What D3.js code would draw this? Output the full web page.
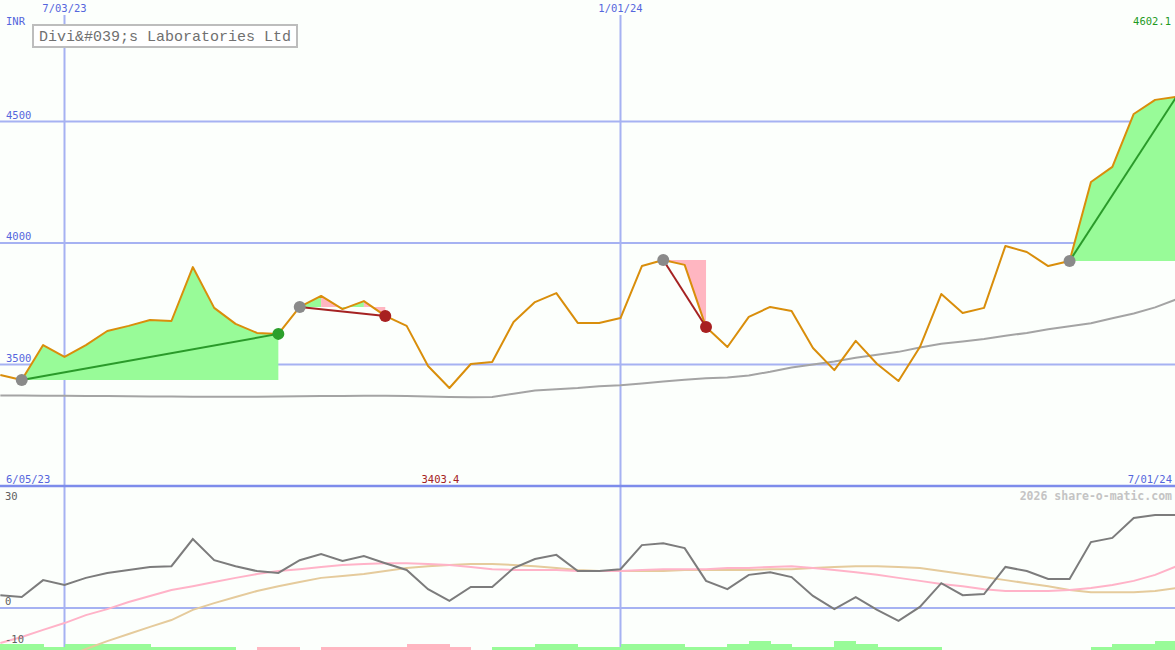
<!DOCTYPE html>
<html><head><meta charset="utf-8">
<script src="https://cdn.jsdelivr.net/npm/d3@7/dist/d3.min.js"></script>
<style>
html,body{margin:0;padding:0;background:#fcfffc;overflow:hidden;}
svg{display:block;}
text{font-family:"DejaVu Sans Mono","Liberation Mono",monospace;}
</style></head><body>
<svg id="chart" width="1175" height="650"></svg>
<script>
// ---------- data ----------
const dates = ["2023-06-12","2023-06-19","2023-06-26","2023-07-03","2023-07-10","2023-07-17","2023-07-24","2023-07-31",
"2023-08-07","2023-08-14","2023-08-21","2023-08-28","2023-09-04","2023-09-11","2023-09-18","2023-09-25",
"2023-10-02","2023-10-09","2023-10-16","2023-10-23","2023-10-30","2023-11-06","2023-11-13","2023-11-20","2023-11-27",
"2023-12-04","2023-12-11","2023-12-18","2023-12-25","2024-01-01","2024-01-08","2024-01-15","2024-01-22","2024-01-29",
"2024-02-05","2024-02-12","2024-02-19","2024-02-26","2024-03-04","2024-03-11","2024-03-18","2024-03-25",
"2024-04-01","2024-04-08","2024-04-15","2024-04-22","2024-04-29","2024-05-06","2024-05-13","2024-05-20","2024-05-27",
"2024-06-03","2024-06-10","2024-06-17","2024-06-24","2024-07-01"];
const closePrice = [3457,3436,3580,3531,3580,3638,3659,3683,3679,3901,3733,3667,3630,3626,3737,3782,
3728,3761,3700,3659,3494,3403.4,3502,3510,3675,3757,3794,3671,3671,3691,3905,3930,3910,3654,
3572,3696,3737,3720,3568,3477,3597,3502,3432,3572,3790,3712,3733,3988,3963,3905,3926,
4251,4313,4531,4589,4602.1];
const longMA = [3372,3372,3371,3371,3370,3370,3369,3368,3368,3367,3367,3367,3367,3368,3369,3370,
3370,3371,3371,3370,3368,3366,3365,3366,3380,3393,3398,3403,3410,3415,3422,3430,3437,3443,
3447,3455,3470,3488,3500,3512,3528,3540,3552,3570,3585,3595,3605,3618,3630,3645,3657,
3670,3690,3710,3735,3768];
const oscillator = [3.4,2.9,7.4,6.1,8.0,9.3,10.1,10.9,11.1,18.3,12.7,11.1,9.8,9.3,12.7,14.3,
12.5,13.8,11.9,10.1,5.0,1.9,5.6,5.6,10.6,13.0,14.1,9.8,9.8,10.3,16.7,17.2,15.9,7.2,
5.0,8.8,9.5,8.2,3.2,-0.3,2.9,-0.5,-3.4,0.3,6.6,3.4,3.7,10.9,9.8,7.7,7.7,
17.5,18.6,23.9,24.7,24.7];
const oscFast = [-9.3,-7.7,-5.8,-4.0,-1.9,-0.3,1.6,3.2,4.8,5.8,6.9,8.0,9.0,9.8,10.3,10.9,
11.4,11.7,11.9,11.9,11.7,11.4,10.9,10.3,10.1,10.1,10.1,9.8,9.8,9.8,10.1,10.3,10.3,10.3,
10.6,10.6,10.9,11.1,10.6,10.1,9.5,8.8,8.0,7.2,6.4,5.8,5.0,4.5,4.5,4.5,4.8,
5.3,6.1,7.2,8.8,11.1];
const oscSlow = [-19.4,-17.2,-15.1,-13.0,-10.9,-8.8,-6.9,-5.0,-3.2,-0.5,1.3,2.9,4.5,5.8,6.9,8.0,
8.5,9.0,9.8,10.6,11.1,11.4,11.7,11.7,11.4,11.1,10.6,10.1,9.8,9.8,9.8,9.8,10.1,10.1,
10.1,10.1,10.3,10.3,10.6,10.9,11.1,11.1,10.9,10.6,9.8,9.0,8.2,7.4,6.6,5.8,4.8,
4.2,4.2,4.2,4.5,5.3];
const signalBars = [2,2,1,2,2,2,2,1,1,1,1,0,-1,-1,0,-1,-1,-1,-1,-2,-2,-1,0,1,1,2,2,1,1,2,2,2,1,1,
2,3,2,1,1,3,2,1,1,1,0,0,0,0,0,0,0,1,2,2,3,3];
const tradeEntries = ["2023-06-19","2023-09-18","2024-01-15","2024-05-27"];
const tradeExits   = ["2023-09-11","2023-10-16","2024-01-29","2024-07-01"];
const tradeOpen    = [false,false,false,true];
const priceTicks = [4500,4000,3500];
const oscTicks = [30,0,-10];
const gridDates = ["2023-07-03","2024-01-01"];
const gridDateLabels = ["7/03/23","1/01/24"];
const rangeLabels = ["6/05/23","7/01/24"];
const titleText = "Divi&#039;s Laboratories Ltd";
const currencyText = "INR";
const creditText = "2026 share-o-matic.com";

// ---------- setup ----------
const W = 1175, H = 650;
const svg = d3.select("#chart");
const parse = d3.utcParse("%Y-%m-%d");
const dts = dates.map(parse);
const gd = gridDates.map(parse);
const x = d3.scaleUtc().domain(gd).range([64.5, 620.5]);
const y = d3.scaleLinear().domain([3000, 5000]).range([486, 0]);
const yo = d3.scaleLinear().domain([0, 30]).range([608, 495]);
const barH = d3.scaleLinear().domain([0, 3]).range([0, 9]);
const idx = d => dates.indexOf(d);
const step = x(dts[1]) - x(dts[0]);

const C = {
  grid:"#a6b2f2", sep:"#7d8ceb", blue:"#5566dd", price:"#d98e0b", ma:"#a4a4a4",
  osc:"#7c7c7c", fast:"#ffb3c8", slow:"#e5cb9c", green:"#98fb98", pink:"#ffb6c1",
  win:"#2a9a2a", loss:"#a52222", dotGray:"#8a8a8a", dotGreen:"#2ca02c", dotRed:"#a82020"
};

svg.append("rect").attr("width",W).attr("height",H).attr("fill","#fcfffc");

// grid
const g = svg.append("g");
priceTicks.forEach(v => g.append("line").attr("x1",0).attr("x2",W)
  .attr("y1",y(v)).attr("y2",y(v)).attr("stroke",C.grid).attr("stroke-width",2));
g.append("line").attr("x1",0).attr("x2",W).attr("y1",yo(0)).attr("y2",yo(0))
  .attr("stroke",C.grid).attr("stroke-width",2);
gd.forEach(d => g.append("line").attr("x1",x(d)).attr("x2",x(d)).attr("y1",15).attr("y2",H)
  .attr("stroke",C.grid).attr("stroke-width",2));
g.append("line").attr("x1",0).attr("x2",W).attr("y1",486).attr("y2",486)
  .attr("stroke",C.sep).attr("stroke-width",2.5);

// bottom signal bars
svg.append("g").selectAll("rect").data(signalBars).join("rect")
  .attr("x",(v,i)=>x(dts[i])).attr("width",step+0.5)
  .attr("y",v=>H-barH(Math.abs(v))).attr("height",v=>barH(Math.abs(v)))
  .attr("fill",v=>v>=0?C.green:C.pink).attr("shape-rendering","crispEdges");

// trade fills (runs of same colour merged)
const fillG = svg.append("g");
tradeEntries.forEach((ed,k)=>{
  const e = idx(ed), xi = idx(tradeExits[k]);
  const ep = closePrice[e];
  const area = d3.area().x(i=>x(dts[i])).y0(y(ep)).y1(i=>y(closePrice[i]));
  let runStart = e;
  let runCol = closePrice[e+1]>=ep;
  for(let j=e;j<xi;j++){
    const col = closePrice[j+1]>=ep;
    const last = (j===xi-1);
    const nextCol = last ? null : (closePrice[j+2]>=ep);
    if(last || nextCol!==col){
      fillG.append("path").attr("d",area(d3.range(runStart, j+2)))
        .attr("fill", col ? C.green : C.pink);
      runStart = j+1;
    }
  }
});

// long MA
const line = (arr, ys) => d3.line().x((v,i)=>x(dts[i])).y(v=>ys(v))(arr);
svg.append("path").attr("d",line(longMA,y)).attr("fill","none").attr("stroke",C.ma).attr("stroke-width",2);
// price
svg.append("path").attr("d",line(closePrice,y)).attr("fill","none").attr("stroke",C.price).attr("stroke-width",2).attr("stroke-linejoin","round");

// lower panel lines
svg.append("path").attr("d",line(oscSlow,yo)).attr("fill","none").attr("stroke",C.slow).attr("stroke-width",2);
svg.append("path").attr("d",line(oscFast,yo)).attr("fill","none").attr("stroke",C.fast).attr("stroke-width",2);
svg.append("path").attr("d",line(oscillator,yo)).attr("fill","none").attr("stroke",C.osc).attr("stroke-width",2);

// trade lines + dots
tradeEntries.forEach((ed,k)=>{
  const e = idx(ed), xi = idx(tradeExits[k]);
  const win = closePrice[xi] >= closePrice[e];
  svg.append("line").attr("x1",x(dts[e])).attr("y1",y(closePrice[e]))
    .attr("x2",x(dts[xi])).attr("y2",y(closePrice[xi]))
    .attr("stroke", win?C.win:C.loss).attr("stroke-width",2);
});
tradeEntries.forEach((ed,k)=>{
  const e = idx(ed), xi = idx(tradeExits[k]);
  const win = closePrice[xi] >= closePrice[e];
  svg.append("circle").attr("cx",x(dts[e])).attr("cy",y(closePrice[e])).attr("r",6).attr("fill",C.dotGray);
  if(!tradeOpen[k]) svg.append("circle").attr("cx",x(dts[xi])).attr("cy",y(closePrice[xi])).attr("r",6)
    .attr("fill", win?C.dotGreen:C.dotRed);
});

// texts
const T = (t,xx,yy,opt={}) => svg.append("text").text(t).attr("x",xx).attr("y",yy)
  .attr("font-size",opt.size||10.5).attr("fill",opt.fill||C.blue)
  .attr("text-anchor",opt.anchor||"start").attr("font-weight",opt.weight||"normal");
gd.forEach((d,i)=>T(gridDateLabels[i], x(d), 12, {anchor:"middle"}));
T(currencyText, 6, 25);
priceTicks.forEach(v=>T(String(v), 6, y(v)-3));
const maxI = d3.maxIndex(closePrice), minI = d3.minIndex(closePrice);
T(d3.format(".1f")(closePrice[maxI]), W-4, 25, {anchor:"end", fill:"#1f9a1f"});
T(d3.format(".1f")(closePrice[minI]), x(dts[minI])+10, 483, {anchor:"end", fill:"#a52222"});
T(rangeLabels[0], 6, 483);
T(rangeLabels[1], W-3, 483, {anchor:"end"});
oscTicks.forEach(v=>T(String(v), 5, Math.max(yo(v)-3, 500), {fill:"#606060"}));
T(creditText, W-3, 500, {anchor:"end", fill:"#c4c4c4", size:11.5, weight:"bold"});

// title box
const tb = svg.append("g");
tb.append("rect").attr("x",33).attr("y",25).attr("width",264).attr("height",22)
  .attr("fill","#ffffff").attr("stroke","#bdbdbd").attr("stroke-width",2);
tb.append("text").text(titleText).attr("x",165).attr("y",41).attr("text-anchor","middle")
  .attr("font-size",15).attr("fill","#707070").style("font-family","'Liberation Mono','DejaVu Sans Mono',monospace");
</script>
</body></html>
